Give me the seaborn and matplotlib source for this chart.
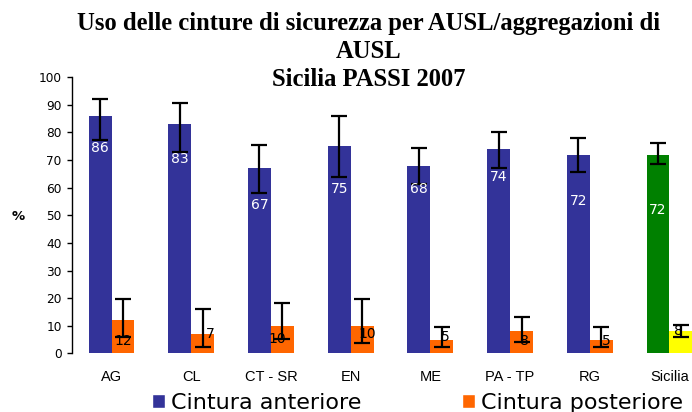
import matplotlib
matplotlib.use("Agg")
import matplotlib.pyplot as plt
from matplotlib.patches import Patch
import seaborn as sns
import pandas as pd
import numpy as np

# ---- data ----
categories = ["AG", "CL", "CT - SR", "EN", "ME", "PA - TP", "RG", "Sicilia"]
series = ["Cintura anteriore", "Cintura posteriore"]
anteriore = [86, 83, 67, 75, 68, 74, 72, 72]
anteriore_low = [77.4, 73.0, 58.0, 63.8, 61.5, 67.2, 65.8, 68.6]
anteriore_high = [92.0, 90.6, 75.4, 86.0, 74.4, 80.3, 78.1, 76.2]
posteriore = [12, 7, 10, 10, 5, 8, 5, 8]
posteriore_low = [6.0, 2.4, 5.1, 3.6, 2.4, 4.2, 2.4, 6.0]
posteriore_high = [19.6, 16.2, 18.1, 19.6, 9.6, 13.0, 9.6, 10.1]

# label placement (as in the original chart)
ant_label_y = [74.5, 70.3, 53.6, 59.6, 59.4, 63.9, 55.1, 51.9]
post_label_dx = [0.0, 0.09, -0.06, 0.06, 0.04, 0.04, 0.06, -0.03]
post_label_y = [4.5, 7.0, 5.3, 7.0, 5.8, 4.5, 4.5, 8.2]

BLUE = "#333399"
ORANGE = "#FF6600"
GREEN = "#008000"
YELLOW = "#FFFF00"

sns.set_style("white")
plt.rcParams["font.family"] = ["DejaVu Sans"]
plt.rcParams["text.color"] = "black"
plt.rcParams["axes.labelcolor"] = "black"
plt.rcParams["xtick.color"] = "black"
plt.rcParams["ytick.color"] = "black"

df = pd.DataFrame({
    "AUSL": categories * 2,
    "tipo": [series[0]] * len(categories) + [series[1]] * len(categories),
    "valore": anteriore + posteriore,
})

fig = plt.figure(figsize=(6.92, 4.12), dpi=100)
ax = fig.add_axes([71.65 / 692, (412 - 353.3) / 412, 637.7 / 692, 276 / 412])

sns.barplot(data=df, x="AUSL", y="valore", hue="tipo", order=categories,
            hue_order=series, palette=[BLUE, ORANGE], width=0.575,
            errorbar=None, saturation=1, legend=False, ax=ax)

c_ant, c_post = ax.containers[0], ax.containers[1]
c_ant[len(categories) - 1].set_facecolor(GREEN)
c_post[len(categories) - 1].set_facecolor(YELLOW)
for c in (c_ant, c_post):
    for p in c:
        p.set_edgecolor("none")

def centers(cont):
    return np.array([p.get_x() + p.get_width() / 2 for p in cont])

xa, xp = centers(c_ant), centers(c_post)
ya, yp = np.array(anteriore, float), np.array(posteriore, float)

ax.errorbar(xa, ya, yerr=[ya - np.array(anteriore_low), np.array(anteriore_high) - ya],
            fmt="none", ecolor="black", elinewidth=1.6, capsize=5.5, capthick=1.6, zorder=5)
ax.errorbar(xp, yp, yerr=[yp - np.array(posteriore_low), np.array(posteriore_high) - yp],
            fmt="none", ecolor="black", elinewidth=1.6, capsize=5.5, capthick=1.6, zorder=5)

for x, v, ly in zip(xa, anteriore, ant_label_y):
    ax.text(x, ly, f"{v}", color="white", ha="center", va="center", fontsize=10, zorder=6)
for x, v, dx, ly in zip(xp, posteriore, post_label_dx, post_label_y):
    ax.text(x + dx, ly, f"{v}", color="black", ha="center", va="center", fontsize=10, zorder=6)

ax.set_xlim(-0.5, len(categories) - 0.5)
ax.set_ylim(0, 100)
ax.set_yticks(range(0, 101, 10))
ax.set_xlabel("")
ax.set_ylabel("%", rotation=0, fontweight="bold", fontsize=9.5, ha="center", va="center")
ax.yaxis.set_label_coords(-0.084, 0.494)

for s in ("top", "right", "bottom"):
    ax.spines[s].set_visible(False)
ax.spines["left"].set_color("black")
ax.spines["left"].set_linewidth(1)
ax.tick_params(axis="y", direction="out", length=3.6, width=1, color="black",
               labelsize=8.7, pad=3.6, left=True)
ax.tick_params(axis="x", length=0, pad=12)
for lab in ax.get_xticklabels():
    lab.set_fontfamily("Liberation Sans")
    lab.set_fontsize(10.5)

fig.text(0.533, 0.972,
         "Uso delle cinture di sicurezza per AUSL/aggregazioni di\nAUSL\nSicilia PASSI 2007",
         ha="center", va="top", fontfamily="Liberation Serif", fontweight="bold",
         fontsize=17.7, linespacing=1.3, color="black")

handles = [Patch(facecolor=BLUE), Patch(facecolor=ORANGE)]
fig.legend(handles, series, loc="center left", bbox_to_anchor=(152 / 692, 0.022),
           ncol=2, frameon=False, fontsize=16, borderpad=0, borderaxespad=0,
           handlelength=0.6, handleheight=0.6, handletextpad=0.25, columnspacing=4.52)

fig.savefig("out.png", dpi=100)
